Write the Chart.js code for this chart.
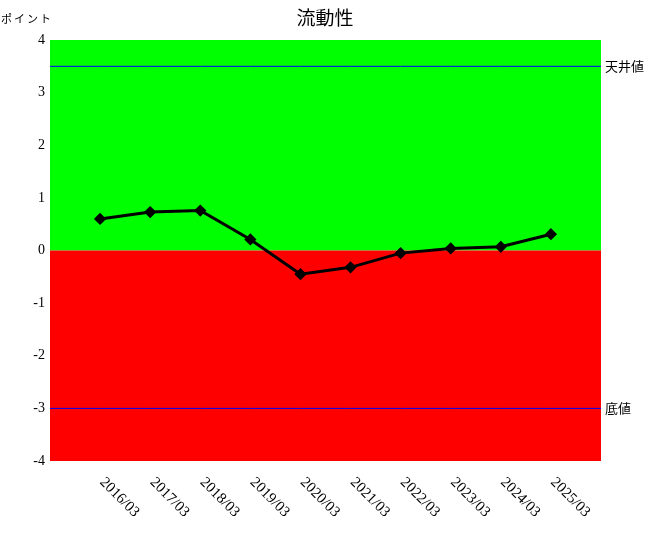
<!DOCTYPE html>
<html>
<head>
<meta charset="utf-8">
<script src="https://cdn.jsdelivr.net/npm/chart.js@4"></script>
<style>
  body { margin: 0; background: #fff; }
  #wrap { width: 650px; height: 540px; }
</style>
</head>
<body>
<div id="wrap"><canvas id="liquidity" width="650" height="540"></canvas></div>
<script>
const periods = ["2016/03", "2017/03", "2018/03", "2019/03", "2020/03", "2021/03", "2022/03", "2023/03", "2024/03", "2025/03"];
const points = [0.60, 0.73, 0.76, 0.21, -0.45, -0.32, -0.05, 0.04, 0.07, 0.31];
const yTicks = [-4, -3, -2, -1, 0, 1, 2, 3, 4];
const ceilingValue = 3.5;
const floorValue = -3;

// one empty slot on each side so the line sits inside the coloured box
const labels = ["", ...periods, ""];
const lineData = [null, ...points, null];
const ceilingData = labels.map(() => ceilingValue);
const floorData = labels.map(() => floorValue);

const serif = "'Liberation Serif', 'DejaVu Serif', serif";
const jp = "'Noto Sans CJK JP', sans-serif";

const decorations = {
    id: "decorations",
    beforeDatasetsDraw(chart) {
        const {ctx, chartArea, scales} = chart;
        const zero = scales.y.getPixelForValue(0);
        ctx.save();
        ctx.fillStyle = "#00ff00";
        ctx.fillRect(chartArea.left, chartArea.top, chartArea.right - chartArea.left, zero - chartArea.top);
        ctx.fillStyle = "#ff0000";
        ctx.fillRect(chartArea.left, zero, chartArea.right - chartArea.left, chartArea.bottom - zero);
        ctx.restore();
    },
    afterDraw(chart) {
        const {ctx, chartArea, scales} = chart;
        ctx.save();
        ctx.fillStyle = "#000";

        // title
        ctx.font = "19px " + jp;
        ctx.textAlign = "center";
        ctx.textBaseline = "middle";
        ctx.fillText("流動性", chart.width / 2, 18);

        // unit
        ctx.font = "11px " + jp;
        ctx.textAlign = "left";
        ctx.letterSpacing = "2px";
        ctx.fillText("ポイント", 1, 19);
        ctx.letterSpacing = "0px";

        // threshold names
        ctx.font = "13px " + jp;
        ctx.fillText("天井値", chartArea.right + 4, scales.y.getPixelForValue(ceilingValue));
        ctx.fillText("底値", chartArea.right + 4, scales.y.getPixelForValue(floorValue));

        // slanted period labels
        ctx.font = "15px " + serif;
        periods.forEach((p, i) => {
            const x = scales.x.getPixelForValue(i + 1);
            ctx.save();
            ctx.translate(x + 2, chartArea.bottom + 19);
            ctx.rotate(Math.PI / 4);
            ctx.fillText(p, 0, 0);
            ctx.restore();
        });
        ctx.restore();
    }
};

new Chart(document.getElementById("liquidity"), {
    type: "line",
    data: {
        labels: labels,
        datasets: [{
            label: "流動性",
            data: lineData,
            borderColor: "#000",
            backgroundColor: "#000",
            borderWidth: 3,
            pointStyle: "rectRot",
            pointRadius: 4,
            pointHoverRadius: 4,
            order: 0
        }, {
            label: "天井値",
            data: ceilingData,
            borderColor: "#0000ff",
            borderWidth: 1,
            pointRadius: 0,
            order: 1
        }, {
            label: "底値",
            data: floorData,
            borderColor: "#0000ff",
            borderWidth: 1,
            pointRadius: 0,
            order: 1
        }]
    },
    options: {
        responsive: false,
        animation: false,
        layout: {
            padding: { top: 40, right: 49, bottom: 79, left: 0 }
        },
        plugins: {
            legend: { display: false },
            title: { display: false },
            tooltip: { enabled: false }
        },
        scales: {
            x: {
                display: false,
                offset: false
            },
            y: {
                min: yTicks[0],
                max: yTicks[yTicks.length - 1],
                afterFit: (scale) => { scale.width = 50; },
                afterBuildTicks: (scale) => { scale.ticks = yTicks.map(v => ({value: v})); },
                grid: { display: false, drawTicks: false },
                border: { display: false },
                ticks: {
                    color: "#000",
                    padding: 5,
                    font: { family: serif, size: 14 }
                }
            }
        }
    },
    plugins: [decorations]
});
</script>
</body>
</html>
